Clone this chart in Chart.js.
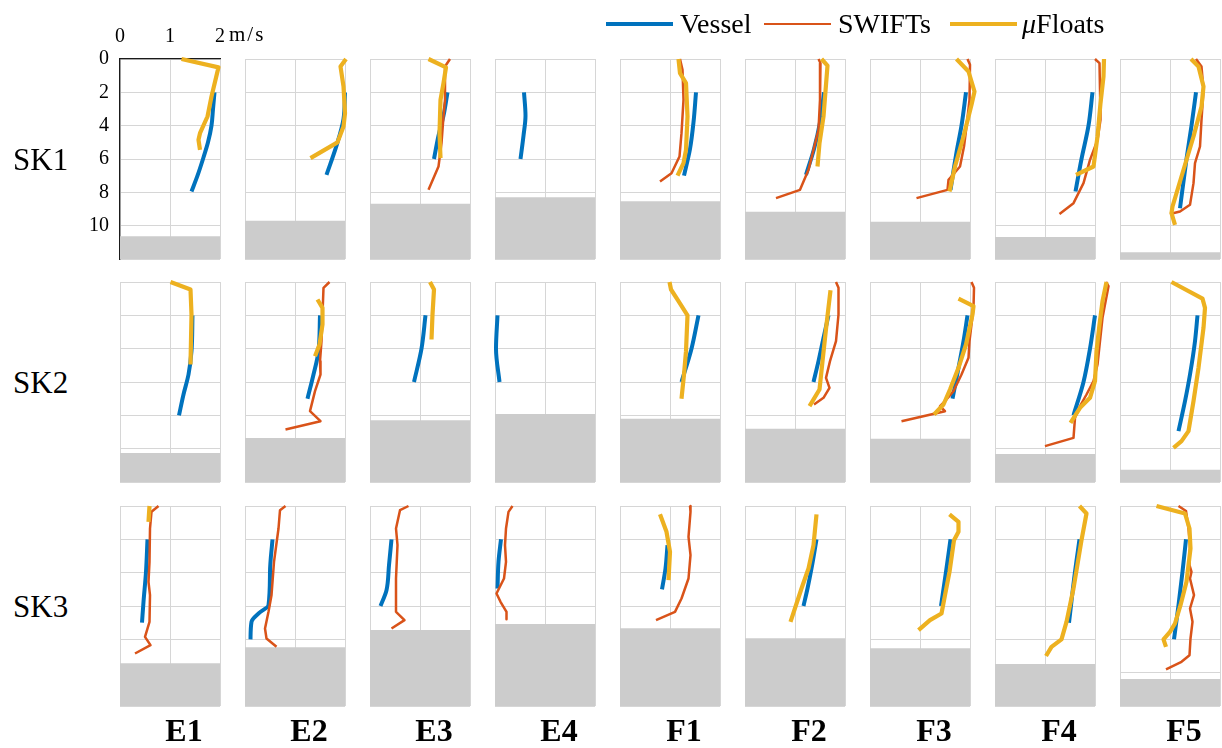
<!DOCTYPE html>
<html>
<head>
<meta charset="utf-8">
<script src="https://cdn.jsdelivr.net/npm/chart.js@4.4.0/dist/chart.umd.min.js"></script>
<style>
  body { margin: 0; width: 1222px; height: 748px; background: #fff; position: relative; overflow: hidden;
         font-family: "Liberation Serif", "DejaVu Serif", serif; color: #000; }
  canvas { position: absolute; }
  .lbl { position: absolute; white-space: nowrap; line-height: 1; }
  .key { position: absolute; }
</style>
</head>
<body>
<script>
// stations across the top, sections down the side
const stations = ['E1', 'E2', 'E3', 'E4', 'F1', 'F2', 'F3', 'F4', 'F5'];
const sections = ['SK1', 'SK2', 'SK3'];
const speedTicks = [0, 1, 2];
const depthTicks = [0, 2, 4, 6, 8, 10];

// seabed depth (m) per station
const floorSK1 = [10.64, 9.7, 8.68, 8.3, 8.54, 9.16, 9.76, 10.68, 11.6];
const floorSK2 = [10.26, 9.36, 8.3, 7.92, 8.2, 8.8, 9.4, 10.32, 11.26];
const floorSK3 = [9.44, 8.48, 7.44, 7.08, 7.34, 7.94, 8.54, 9.48, 10.38];

// profiles: [speed m/s, depth m], one entry per station (null = no data)
const vesselSK1 = [
  [[1.89,2],[1.86,3],[1.83,4],[1.76,5],[1.66,6],[1.55,7],[1.43,7.95]],
  [[2.0,2],[1.97,3.6],[1.83,5.2],[1.63,6.95]],
  [[1.55,2],[1.47,3.4],[1.37,4.6],[1.28,6]],
  [[0.58,2],[0.61,3.4],[0.57,4.6],[0.51,6]],
  [[1.52,2],[1.47,3.8],[1.4,5.4],[1.28,7]],
  [[1.58,2],[1.5,3.8],[1.38,5.4],[1.22,6.95]],
  [[1.92,2],[1.83,4],[1.73,5.6],[1.61,7.85]],
  [[1.95,2],[1.87,4],[1.73,6],[1.61,7.95]],
  [[1.52,2],[1.43,4],[1.33,6],[1.2,8.95]]
];
const swiftSK1 = [
  null,
  null,
  [[1.6,0],[1.5,0.45],[1.5,2.45],[1.47,3.45],[1.43,5.05],[1.37,6.45],[1.17,7.85]],
  null,
  [[1.2,0],[1.25,0.65],[1.27,2.45],[1.23,4.45],[1.19,5.85],[1.03,6.85],[0.8,7.35]],
  [[1.47,0],[1.51,0.25],[1.5,2.45],[1.47,4.25],[1.37,5.45],[1.27,6.65],[1.1,7.85],[0.62,8.35]],
  [[1.95,0],[2.0,0.35],[1.99,2.45],[1.93,4.05],[1.88,5.25],[1.8,6.45],[1.57,7.25],[1.55,7.85],[0.93,8.35]],
  [[2.0,0],[2.09,0.25],[2.1,1.85],[2.11,3.65],[2.05,4.85],[1.9,6.05],[1.77,7.45],[1.57,8.65],[1.29,9.3]],
  [[1.52,0],[1.63,0.45],[1.67,1.85],[1.63,3.65],[1.6,5.25],[1.5,6.25],[1.47,7.45],[1.4,8.75],[1.2,9.15],[1.0,9.3]]
];
const floatSK1 = [
  [[1.23,0],[1.97,0.5],[1.83,2.25],[1.75,3.45],[1.6,4.45],[1.57,4.85],[1.6,5.45]],
  [[2.02,0],[1.91,0.45],[1.97,1.65],[2.0,3.25],[1.97,4.05],[1.85,5.0],[1.31,5.95]],
  [[1.17,0],[1.52,0.5],[1.47,1.45],[1.41,2.45],[1.39,4.45],[1.41,5.95]],
  null,
  [[1.17,0],[1.2,0.85],[1.32,1.45],[1.35,3.45],[1.32,5.45],[1.27,6.25],[1.15,7.0]],
  [[1.53,0],[1.65,0.4],[1.57,3.45],[1.49,5.05],[1.45,6.45]],
  [[1.73,0],[1.97,0.75],[2.09,1.95],[2.03,2.75],[1.87,4.65],[1.7,6.45],[1.59,7.95]],
  [[2.18,0],[2.17,1.05],[2.11,2.65],[2.05,4.65],[1.97,6.45],[1.62,6.95]],
  [[1.42,0],[1.57,0.45],[1.67,1.65],[1.63,2.85],[1.47,4.65],[1.23,7.05],[1.05,8.85],[1.03,9.25],[1.1,9.95]]
];

const vesselSK2 = [
  [[1.45,2],[1.43,4.15],[1.37,5.55],[1.27,6.75],[1.18,8]],
  [[1.5,2],[1.47,4.15],[1.37,5.55],[1.25,7]],
  [[1.11,2],[1.03,4],[0.88,6]],
  [[0.05,2],[0.02,4],[0.09,6]],
  [[1.57,2],[1.43,4],[1.23,6]],
  [[1.67,2],[1.57,3.35],[1.47,4.75],[1.37,6]],
  [[1.95,2],[1.87,3.55],[1.77,5.15],[1.65,7]],
  [[2.0,2],[1.9,4],[1.77,6],[1.57,8]],
  [[1.55,2],[1.5,3.55],[1.4,5.55],[1.3,7.15],[1.17,8.95]]
];
const swiftSK2 = [
  null,
  [[1.69,0],[1.57,0.35],[1.55,1.95],[1.53,3.55],[1.5,4.75],[1.51,5.55],[1.4,6.55],[1.3,7.75],[1.51,8.35],[0.81,8.85]],
  null,
  null,
  null,
  [[1.82,0],[1.87,0.35],[1.87,1.95],[1.82,3.55],[1.7,4.75],[1.62,5.75],[1.69,6.35],[1.57,6.95],[1.38,7.35]],
  [[2.03,0],[2.08,0.35],[2.07,1.55],[1.99,3.55],[1.97,4.55],[1.83,5.55],[1.67,6.55],[1.5,7.15],[1.4,7.45],[1.5,7.75],[0.63,8.35]],
  [[2.22,0],[2.27,0.25],[2.2,1.35],[2.15,2.15],[2.1,3.55],[2.05,4.95],[1.97,5.95],[1.83,6.75],[1.7,7.45],[1.6,8.15],[1.57,9.35],[1.0,9.85]],
  null
];
const floatSK2 = [
  [[1.01,0],[1.41,0.45],[1.43,1.95],[1.41,4.95]],
  [[1.45,1.05],[1.55,1.55],[1.55,2.55],[1.49,3.75],[1.4,4.45]],
  [[1.2,0],[1.28,0.45],[1.25,1.95],[1.23,3.45]],
  null,
  [[0.99,0],[1.02,0.45],[1.17,1.15],[1.35,2],[1.32,4.15],[1.28,5.55],[1.23,7]],
  [[1.71,0.5],[1.63,2.55],[1.55,4.75],[1.49,6.45],[1.29,7.45]],
  [[1.77,1.0],[2.07,1.45],[2.05,1.95],[1.92,3.75],[1.77,5.15],[1.6,6.45],[1.47,7.35],[1.28,7.95]],
  [[2.23,0],[2.15,1.15],[2.09,2.55],[2.03,4.15],[2.0,5.95],[1.9,6.95],[1.7,7.55],[1.51,8.45]],
  [[1.03,0],[1.65,1.0],[1.7,1.55],[1.67,2.75],[1.57,5.15],[1.47,7.15],[1.37,8.95],[1.23,9.55],[1.07,9.95]]
];

const vesselSK3 = [
  [[0.55,2],[0.52,3.95],[0.47,5.75],[0.44,7]],
  [[0.55,2],[0.5,3.95],[0.47,5.95],[0.29,6.4],[0.13,6.95],[0.11,8]],
  [[0.43,2],[0.38,3.55],[0.33,5.05],[0.21,6]],
  [[0.12,2],[0.07,3.35],[0.05,4.95]],
  [[0.95,2.35],[0.91,3.75],[0.84,5]],
  [[1.43,2],[1.33,3.75],[1.25,4.95],[1.17,6]],
  [[1.61,2],[1.52,3.95],[1.42,6]],
  [[1.69,2],[1.6,3.95],[1.48,7]],
  [[1.32,2],[1.25,3.95],[1.17,5.95],[1.08,8]]
];
const swiftSK3 = [
  [[0.77,0],[0.63,0.35],[0.6,1.35],[0.59,3.35],[0.57,4.55],[0.6,5.35],[0.59,6.95],[0.5,7.85],[0.61,8.35],[0.3,8.85]],
  [[0.81,0],[0.7,0.25],[0.67,1.35],[0.58,3.35],[0.53,5.35],[0.47,6.35],[0.4,7.35],[0.43,7.95],[0.63,8.45]],
  [[0.77,0],[0.6,0.25],[0.52,1.35],[0.55,2.35],[0.52,4.35],[0.52,6.35],[0.69,6.85],[0.43,7.35]],
  [[0.35,0],[0.27,0.35],[0.22,1.35],[0.2,2.35],[0.22,3.35],[0.18,4.35],[0.03,5.25],[0.11,5.75],[0.23,6.35],[0.23,6.8]],
  [[1.4,0],[1.41,0.35],[1.37,1.85],[1.41,2.95],[1.37,4.35],[1.23,5.55],[1.1,6.35],[0.72,6.85]],
  null,
  null,
  null,
  [[1.17,0],[1.32,0.3],[1.37,1.35],[1.4,2.35],[1.39,3.55],[1.43,3.95],[1.4,4.35],[1.48,5.35],[1.4,6.15],[1.45,6.95],[1.41,7.95],[1.39,8.95],[1.23,9.35],[0.92,9.8]]
];
const floatSK3 = [
  [[0.59,0],[0.57,0.95]],
  null,
  null,
  null,
  [[0.8,0.5],[0.93,1.55],[1.0,2.75],[0.97,4.45]],
  [[1.43,0.5],[1.37,2.35],[1.27,3.75],[1.13,4.95],[0.91,6.95]],
  [[1.59,0.5],[1.77,0.95],[1.77,1.55],[1.68,2.05],[1.59,3.95],[1.5,5.35],[1.43,6.45],[1.2,6.85],[0.97,7.45]],
  [[1.69,0],[1.83,0.45],[1.73,2.05],[1.57,4.95],[1.43,6.95],[1.33,8],[1.13,8.45],[1.02,9]],
  [[0.73,0],[1.3,0.45],[1.39,1.35],[1.41,2.55],[1.33,4.55],[1.21,5.95],[1.1,7.05],[1.0,7.55],[0.87,8],[0.92,8.45]]
];

const floors = [floorSK1, floorSK2, floorSK3];
const vessel = [vesselSK1, vesselSK2, vesselSK3];
const swift = [swiftSK1, swiftSK2, swiftSK3];
const floats = [floatSK1, floatSK2, floatSK3];

const BLUE = '#0072BD', RED = '#D95319', YELLOW = '#EDB120';
const GRID = '#d6d6d6', SEABED = '#cccccc';
const FONT = '"Liberation Serif", "DejaVu Serif", serif';

// panel placement (px)
const colLeft = stations.map((s, i) => 120 + 125 * i);
const rowTop = [59, 282, 506];
const PW = 100, PH = 200;

function addText(html, left, top, size, extra) {
  const d = document.createElement('div');
  d.className = 'lbl';
  d.innerHTML = html;
  d.style.left = left + 'px';
  d.style.top = top + 'px';
  d.style.fontSize = size + 'px';
  if (extra) Object.assign(d.style, extra);
  document.body.appendChild(d);
  return d;
}

function profileLine(points, color, width, order, smooth) {
  const ds = {
    data: points.map(p => ({ x: p[0], y: p[1] })),
    borderColor: color,
    borderWidth: width,
    pointRadius: 0,
    fill: false,
    tension: 0,
    borderJoinStyle: 'round',
    clip: false,
    order: order
  };
  if (smooth) {
    // depth is the running axis, so spline along y without overshoot
    ds.indexAxis = 'y';
    ds.cubicInterpolationMode = 'monotone';
  }
  return ds;
}

// keep the plot box exactly where the panel sits
function noPad(s) {
  s.paddingTop = 0; s.paddingBottom = 0; s.paddingLeft = 0; s.paddingRight = 0;
}

function makePanel(r, c) {
  const first = r === 0 && c === 0;
  const padL = first ? 60 : 15, padT = first ? 59 : 10, padR = 20, padB = 10;
  const cv = document.createElement('canvas');
  cv.width = PW + padL + padR;
  cv.height = PH + padT + padB;
  cv.style.left = (colLeft[c] - padL) + 'px';
  cv.style.top = (rowTop[r] - padT) + 'px';
  document.body.appendChild(cv);

  const datasets = [{
    // seabed block
    data: [{ x: 0, y: floors[r][c] }, { x: 2, y: floors[r][c] }],
    borderWidth: 0,
    pointRadius: 0,
    backgroundColor: SEABED,
    fill: { value: 12 },
    order: 4
  }];
  if (vessel[r][c]) datasets.push(profileLine(vessel[r][c], BLUE, 4, 3, true));
  if (swift[r][c]) datasets.push(profileLine(swift[r][c], RED, 2.5, 2, false));
  if (floats[r][c]) datasets.push(profileLine(floats[r][c], YELLOW, 4.2, 1, false));

  const tickFont = { family: FONT, size: 20 };
  new Chart(cv, {
    type: 'line',
    data: { datasets },
    options: {
      responsive: false,
      animation: false,
      devicePixelRatio: 1,
      layout: { padding: first ? { left: 0, top: 0, right: padR, bottom: padB }
                              : { left: padL, top: padT, right: padR, bottom: padB } },
      plugins: { legend: { display: false }, tooltip: { enabled: false } },
      scales: {
        x: {
          type: 'linear', position: 'top', min: 0, max: 2,
          ticks: { display: first, stepSize: 1, color: '#000', font: tickFont, padding: 10,
                   maxRotation: 0, callback: v => speedTicks.includes(v) ? String(v) : '' },
          grid: { color: GRID, lineWidth: 1, drawTicks: false },
          border: { display: first, color: '#1a1a1a', width: 1.3 },
          afterFit: s => { s.height = first ? padT : 0; noPad(s); }
        },
        y: {
          type: 'linear', position: 'left', min: 0, max: 12, reverse: true,
          ticks: { display: first, stepSize: 2, color: '#000', font: tickFont, padding: 11,
                   callback: v => depthTicks.includes(v) ? String(v) : '' },
          grid: { color: GRID, lineWidth: 1, drawTicks: false },
          border: { display: first, color: '#1a1a1a', width: 1.3 },
          afterFit: s => { s.width = first ? padL : 0; noPad(s); }
        }
      }
    }
  });
}

sections.forEach((sec, r) => stations.forEach((st, c) => makePanel(r, c)));

// unit next to the speed ticks
addText('m/s', 229, 24, 21, { letterSpacing: '2px' });

// section names on the left
sections.forEach((sec, r) => addText(sec, 13, rowTop[r] + 85, 31));

// station names under the grid
stations.forEach((st, c) => addText(st, colLeft[c] + 64, 714, 32,
  { fontWeight: 'bold', transform: 'translateX(-50%)' }));

// legend
const keys = [
  { label: 'Vessel', color: BLUE, w: 4, x: 606, tx: 680 },
  { label: 'SWIFTs', color: RED, w: 2.5, x: 764, tx: 838 },
  { label: '<i>μ</i>Floats', color: YELLOW, w: 4, x: 950, tx: 1022 }
];
keys.forEach(k => {
  const line = document.createElement('div');
  line.className = 'key';
  Object.assign(line.style, { left: k.x + 'px', top: (24 - k.w / 2) + 'px', width: '67px',
                              height: k.w + 'px', background: k.color });
  document.body.appendChild(line);
  addText(k.label, k.tx, 10, 28);
});
</script>
</body>
</html>
